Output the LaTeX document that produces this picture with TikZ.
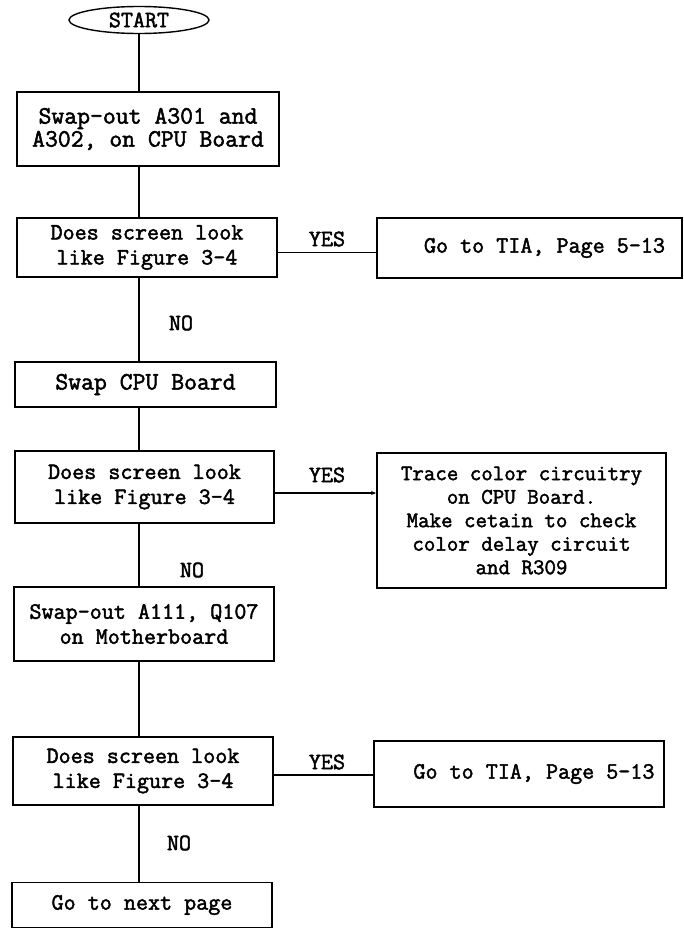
\documentclass[tikz,border=0pt]{standalone}
\usepackage{fontspec}
\setmonofont[AutoFakeBold=2]{Latin Modern Mono}
\usetikzlibrary{shapes.geometric,arrows.meta}
\begin{document}
\begin{tikzpicture}[
        x=1pt, y=-1pt,
        font=\ttfamily\bfseries\fontsize{23.4}{25}\selectfont,
        flow box/.style={draw, line width=1.8pt, inner sep=0pt, align=center},
        big text/.style={font=\ttfamily\bfseries\fontsize{25}{23}\selectfont},
        small text/.style={font=\ttfamily\bfseries\fontsize{22.3}{23.5}\selectfont},
        terminal/.style={draw, ellipse, line width=1.4pt, inner sep=0pt, minimum width=140pt, minimum height=27pt},
        link/.style={line width=1.3pt},
        answer/.style={inner sep=1pt},
    ]
    \useasboundingbox (0,0) rectangle (683,929);

    % Start of the chart
    \node[terminal] (start) at (139,20) {START};

    % Left column: the steps and the questions
    \node[flow box, big text, minimum width=262pt, minimum height=74pt] (swapA) at (148,129) {Swap-out A301 and\\A302, on CPU Board};
    \node[flow box, minimum width=260pt, minimum height=59pt] (lookA) at (147,247.5) {Does screen look\\like Figure 3-4};
    \node[flow box, big text, minimum width=261pt, minimum height=45pt] (swapCPU) at (145.5,384.5) {Swap CPU Board};
    \node[flow box, minimum width=259pt, minimum height=72pt] (lookB) at (144.5,487) {Does screen look\\like Figure 3-4};
    \node[flow box, minimum width=260pt, minimum height=74pt] (swapMB) at (144,624) {Swap-out A111, Q107\\on Motherboard};
    \node[flow box, minimum width=260pt, minimum height=68pt] (lookC) at (143,771) {Does screen look\\like Figure 3-4};
    \node[flow box, minimum width=260pt, minimum height=45pt] (nextpg) at (142,905) {Go to next page};

    % Right column: where a YES leads
    \node[flow box, minimum width=305pt, minimum height=60pt] (tiaA) at (529.5,248) {\hspace*{30pt}Go to TIA, Page 5-13};
    \node[flow box, small text, minimum width=289pt, minimum height=135pt] (trace) at (521.5,520.5) {Trace color circuitry\\on CPU Board.\\Make cetain to  check\\color delay circuit\\and R309};
    \node[flow box, minimum width=290pt, minimum height=66pt] (tiaB) at (519,774) {\hspace*{30pt}Go to TIA, Page 5-13};

    % Vertical links, all on the line below START
    \foreach \a/\b in {start/swapA, swapA/lookA, lookA/swapCPU, swapCPU/lookB, lookB/swapMB, swapMB/lookC, lookC/nextpg} {
        \draw[link] (\a.south -| start.south) -- (\b.north -| start.south);
    }

    % YES links to the right
    \draw[link] ([yshift=-5pt]lookA.east) -- ([yshift=-5pt]lookA.east -| tiaA.west);
    \draw[link, -{Stealth[length=5pt,width=4pt]}] ([yshift=-6pt]lookB.east) -- ([yshift=-6pt]lookB.east -| trace.west);
    \draw[link] ([yshift=-4pt]lookC.east) -- ([yshift=-4pt]lookC.east -| tiaB.west);

    % Answer labels
    \foreach \y/\name in {239/yesA, 475/yesB, 762/yesC} {
        \node[answer] (\name) at (327,\y) {YES};
    }
    \foreach \x/\y/\name in {181/323/noA, 192/570/noB, 179/843/noC} {
        \node[answer] (\name) at (\x,\y) {NO};
    }

\end{tikzpicture}
\end{document}
